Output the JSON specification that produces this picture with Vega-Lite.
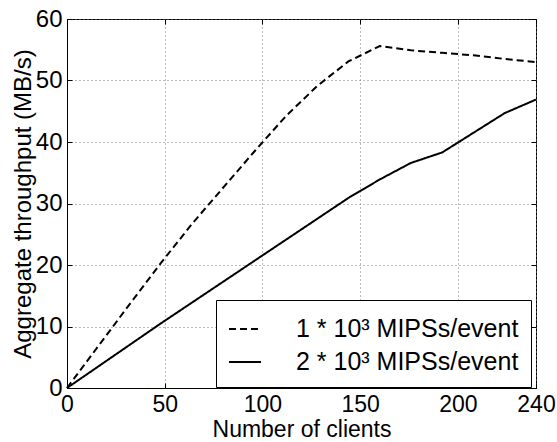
{
  "$schema": "https://vega.github.io/schema/vega-lite/v6.json",
  "width": 469,
  "height": 369,
  "autosize": {"type": "none"},
  "padding": {"left": 67, "top": 19, "right": 21, "bottom": 54},
  "background": "white",
  "config": {
    "font": "Liberation Sans",
    "view": {"stroke": "black", "strokeWidth": 1},
    "axis": {
      "domainColor": "black",
      "domainWidth": 1,
      "tickColor": "black",
      "tickSize": -5,
      "labelColor": "black",
      "labelFontSize": 24,
      "titleColor": "black",
      "titleFontSize": 24,
      "titleFontWeight": "normal",
      "gridColor": "#777777",
      "gridDash": [1, 3],
      "gridWidth": 1,
      "labelFlush": false,
      "labelOverlap": false
    }
  },
  "data": {
    "values": [
      {"clients": 0, "tp": 0, "series": "1 * 10³ MIPSs/event"},
      {"clients": 16, "tp": 6.8, "series": "1 * 10³ MIPSs/event"},
      {"clients": 32, "tp": 13.6, "series": "1 * 10³ MIPSs/event"},
      {"clients": 48, "tp": 20.3, "series": "1 * 10³ MIPSs/event"},
      {"clients": 64, "tp": 26.7, "series": "1 * 10³ MIPSs/event"},
      {"clients": 80, "tp": 32.6, "series": "1 * 10³ MIPSs/event"},
      {"clients": 96, "tp": 38.5, "series": "1 * 10³ MIPSs/event"},
      {"clients": 112, "tp": 44.2, "series": "1 * 10³ MIPSs/event"},
      {"clients": 128, "tp": 49.1, "series": "1 * 10³ MIPSs/event"},
      {"clients": 144, "tp": 53.1, "series": "1 * 10³ MIPSs/event"},
      {"clients": 160, "tp": 55.6, "series": "1 * 10³ MIPSs/event"},
      {"clients": 176, "tp": 54.9, "series": "1 * 10³ MIPSs/event"},
      {"clients": 192, "tp": 54.5, "series": "1 * 10³ MIPSs/event"},
      {"clients": 208, "tp": 54.1, "series": "1 * 10³ MIPSs/event"},
      {"clients": 224, "tp": 53.5, "series": "1 * 10³ MIPSs/event"},
      {"clients": 240, "tp": 53.0, "series": "1 * 10³ MIPSs/event"},
      {"clients": 0, "tp": 0, "series": "2 * 10³ MIPSs/event"},
      {"clients": 16, "tp": 3.5, "series": "2 * 10³ MIPSs/event"},
      {"clients": 32, "tp": 7.0, "series": "2 * 10³ MIPSs/event"},
      {"clients": 48, "tp": 10.5, "series": "2 * 10³ MIPSs/event"},
      {"clients": 64, "tp": 13.9, "series": "2 * 10³ MIPSs/event"},
      {"clients": 80, "tp": 17.3, "series": "2 * 10³ MIPSs/event"},
      {"clients": 96, "tp": 20.7, "series": "2 * 10³ MIPSs/event"},
      {"clients": 112, "tp": 24.1, "series": "2 * 10³ MIPSs/event"},
      {"clients": 128, "tp": 27.5, "series": "2 * 10³ MIPSs/event"},
      {"clients": 144, "tp": 30.9, "series": "2 * 10³ MIPSs/event"},
      {"clients": 160, "tp": 33.9, "series": "2 * 10³ MIPSs/event"},
      {"clients": 176, "tp": 36.6, "series": "2 * 10³ MIPSs/event"},
      {"clients": 192, "tp": 38.3, "series": "2 * 10³ MIPSs/event"},
      {"clients": 208, "tp": 41.5, "series": "2 * 10³ MIPSs/event"},
      {"clients": 224, "tp": 44.7, "series": "2 * 10³ MIPSs/event"},
      {"clients": 240, "tp": 46.9, "series": "2 * 10³ MIPSs/event"}
    ]
  },
  "layer": [
    {
      "mark": {"type": "line", "color": "black", "strokeWidth": 2},
      "encoding": {
        "x": {
          "field": "clients",
          "type": "quantitative",
          "scale": {"domain": [0, 240], "nice": false, "zero": false},
          "axis": {
            "values": [0, 50, 100, 150, 200, 240],
            "grid": true,
            "labelFontSize": 23,
            "labelPadding": 10,
            "title": "Number of clients",
            "titleFontSize": 23,
            "titlePadding": 2
          }
        },
        "y": {
          "field": "tp",
          "type": "quantitative",
          "scale": {"domain": [0, 60], "nice": false},
          "axis": {
            "values": [0, 10, 20, 30, 40, 50, 60],
            "grid": true,
            "labelPadding": 10,
            "title": "Aggregate throughput (MB/s)",
            "titlePadding": 0
          }
        },
        "strokeDash": {
          "field": "series",
          "type": "nominal",
          "scale": {
            "domain": ["1 * 10³ MIPSs/event", "2 * 10³ MIPSs/event"],
            "range": [[7, 4], [1, 0]]
          },
          "legend": {
            "title": null,
            "orient": "none",
            "legendX": 149,
            "legendY": 281,
            "strokeColor": "black",
            "fillColor": "white",
            "padding": 12,
            "symbolType": "stroke",
            "symbolSize": 1024,
            "symbolStrokeWidth": 2,
            "symbolStrokeColor": "black",
            "labelFontSize": 25,
            "labelColor": "black",
            "labelOffset": 34,
            "labelLimit": 0,
            "rowPadding": 3,
            "cornerRadius": 0
          }
        }
      }
    },
    {
      "mark": {"type": "line", "strokeOpacity": 0},
      "encoding": {
        "x": {
          "field": "clients",
          "type": "quantitative",
          "axis": {"values": [0, 50, 100, 150, 200, 240], "labels": false, "grid": false, "domain": false, "title": null}
        },
        "y": {
          "field": "tp",
          "type": "quantitative",
          "axis": {"values": [0, 10, 20, 30, 40, 50, 60], "labels": false, "grid": false, "domain": false, "title": null}
        }
      }
    }
  ],
  "resolve": {"axis": {"x": "independent", "y": "independent"}}
}
